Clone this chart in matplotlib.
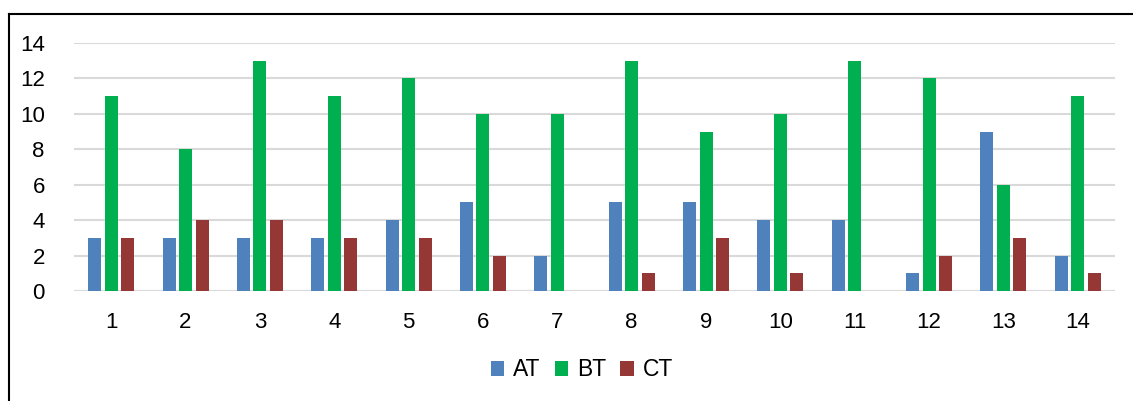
import matplotlib
matplotlib.use("Agg")
import matplotlib.pyplot as plt
from matplotlib.lines import Line2D
from matplotlib.patches import Patch
import numpy as np

plt.rcParams['font.family'] = ['Liberation Sans', 'DejaVu Sans']

categories = [str(i) for i in range(1, 15)]
at_values = [3, 3, 3, 3, 4, 5, 2, 5, 5, 4, 4, 1, 9, 2]
bt_values = [11, 8, 13, 11, 12, 10, 10, 13, 9, 10, 13, 12, 6, 11]
ct_values = [3, 4, 4, 3, 3, 2, 0, 1, 3, 1, 0, 2, 3, 1]
series_names = ['AT', 'BT', 'CT']
series_colors = ['#4F81BD', '#00B050', '#953735']

W, H = 1133, 401
fig = plt.figure(figsize=(W / 100, H / 100), dpi=100)
ax = fig.add_axes([74 / W, 1 - 291 / H, (1115 - 74) / W, (291 - 43) / H])

x = np.arange(len(categories))
bar_w = 0.175
step = 0.222
for i, (vals, name, col) in enumerate(zip([at_values, bt_values, ct_values], series_names, series_colors)):
    ax.bar(x + (i - 1) * step, vals, width=bar_w, color=col, label=name, zorder=3)

ax.set_xlim(-0.5, len(categories) - 0.5)
ax.set_ylim(0, 14)
ax.set_yticks(range(0, 15, 2))
ax.set_xticks(x)
ax.set_xticklabels(categories)
ax.grid(axis='y', color='#D9D9D9', linewidth=1.5, zorder=0)
ax.axhline(0, color='#D9D9D9', linewidth=1.5, zorder=1)
for s in ax.spines.values():
    s.set_visible(False)
ax.tick_params(axis='both', length=0, labelsize=16, colors='black')
ax.tick_params(axis='y', pad=21)
ax.tick_params(axis='x', pad=15)

handles = [Patch(facecolor=c, label=n) for c, n in zip(series_colors, series_names)]
fig.legend(handles=handles, loc='center', bbox_to_anchor=(582 / W, 1 - 370 / H), ncol=3,
           frameon=False, fontsize=16.5, handlelength=0.6, handleheight=0.6,
           handletextpad=0.4, columnspacing=0.6)

# outer frame: top and left edges
fig.add_artist(Line2D([9 / W, 1], [1 - 14 / H, 1 - 14 / H], color='black', linewidth=1.5,
                      transform=fig.transFigure))
fig.add_artist(Line2D([9 / W, 9 / W], [0, 1 - 14 / H], color='black', linewidth=1.5,
                      transform=fig.transFigure))

fig.savefig('out.png', dpi=100)
